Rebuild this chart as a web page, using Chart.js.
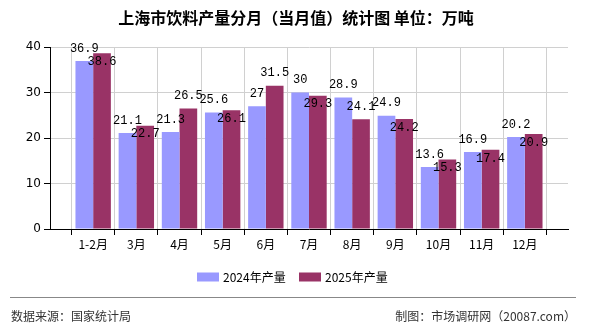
<!DOCTYPE html>
<html>
<head>
<meta charset="utf-8">
<script src="https://cdn.jsdelivr.net/npm/chart.js@4.4.1/dist/chart.umd.min.js"></script>
<style>
  html, body { margin: 0; padding: 0; background: #fff; }
  #wrap { width: 590px; height: 330px; position: relative; }
</style>
</head>
<body>
<div id="wrap"><canvas id="prodChart" width="590" height="330"></canvas></div>
<script>
// months (empty slots at both ends keep the axis padded like the original)
const months = ["", "1-2月", "3月", "4月", "5月", "6月", "7月", "8月", "9月", "10月", "11月", "12月", ""];
const output2024 = [null, 36.9, 21.1, 21.3, 25.6, 27, 30, 28.9, 24.9, 13.6, 16.9, 20.2, null];
const output2025 = [null, 38.6, 22.7, 26.5, 26.1, 31.5, 29.3, 24.1, 24.2, 15.3, 17.4, 20.9, null];
const seriesNames = ["2024年产量", "2025年产量"];
const yTicks = [0, 10, 20, 30, 40];

const titleText = "上海市饮料产量分月（当月值）统计图 单位：万吨";
const sourceText = "数据来源：国家统计局";
const makerText = "制图：市场调研网（20087.com）";

const BLUE = "#9999ff";
const WINE = "#993366";

// value labels: 2024 above the bar; 2025 above too unless it would
// collide with the 2024 label, then it goes just inside the bar top
const valueLabels = {
  id: "valueLabels",
  afterDatasetsDraw(chart) {
    const ctx = chart.ctx;
    const a = chart.data.datasets[0].data;
    const b = chart.data.datasets[1].data;
    ctx.save();
    ctx.font = "12px 'Liberation Mono', monospace";
    ctx.fillStyle = "#000";
    ctx.textAlign = "center";
    ctx.textBaseline = "middle";
    chart.data.datasets.forEach((ds, i) => {
      const meta = chart.getDatasetMeta(i);
      meta.data.forEach((bar, j) => {
        const v = ds.data[j];
        if (v === null) return;
        let y = bar.y - 12.5;
        if (i === 1 && Math.abs(b[j] - a[j]) < 3) y = bar.y + 8.5;
        ctx.fillText(String(v), bar.x, y);
      });
    });
    ctx.restore();
  },
};

// title, legend and footer
const decor = {
  id: "decor",
  afterDraw(chart) {
    const ctx = chart.ctx;
    ctx.save();
    ctx.fillStyle = "#000";
    ctx.textBaseline = "middle";

    ctx.font = "bold 16px 'Noto Sans CJK SC', sans-serif";
    ctx.textAlign = "center";
    ctx.fillText(titleText, 296, 18);

    // legend
    ctx.font = "12px 'Noto Sans CJK SC', sans-serif";
    ctx.textAlign = "left";
    const legendY = 277;
    const items = [
      { color: BLUE, x: 197 },
      { color: WINE, x: 299 },
    ];
    items.forEach((it, k) => {
      ctx.fillStyle = it.color;
      ctx.fillRect(it.x, legendY - 4.5, 22, 9);
      ctx.fillStyle = "#000";
      ctx.fillText(seriesNames[k], it.x + 26, legendY);
    });

    // footer
    ctx.strokeStyle = "#888";
    ctx.lineWidth = 1;
    ctx.beginPath();
    ctx.moveTo(10, 297.5);
    ctx.lineTo(576, 297.5);
    ctx.stroke();

    ctx.fillStyle = "#333";
    ctx.font = "12px 'Noto Sans CJK SC', sans-serif";
    ctx.textAlign = "left";
    ctx.fillText(sourceText, 11, 316);
    ctx.textAlign = "right";
    ctx.fillText(makerText, 576, 316);
    ctx.restore();
  },
};

new Chart(document.getElementById("prodChart").getContext("2d"), {
  type: "bar",
  data: {
    labels: months,
    datasets: [
      {
        label: seriesNames[0],
        data: output2024,
        backgroundColor: BLUE,
        borderWidth: 0,
        categoryPercentage: 0.82,
        barPercentage: 1.0,
      },
      {
        label: seriesNames[1],
        data: output2025,
        backgroundColor: WINE,
        borderWidth: 0,
        categoryPercentage: 0.82,
        barPercentage: 1.0,
      },
    ],
  },
  options: {
    responsive: false,
    animation: false,
    layout: {
      padding: { top: 47, right: 22, bottom: 0, left: 0 },
    },
    plugins: {
      legend: { display: false },
      title: { display: false },
      tooltip: { enabled: false },
    },
    scales: {
      x: {
        offset: false,
        afterFit: (scale) => {
          scale.height = 101;
        },
        grid: {
          color: "#d0d0d0",
          tickColor: "#000",
          tickLength: 6,
        },
        border: { color: "#000" },
        ticks: {
          color: "#000",
          autoSkip: false,
          maxRotation: 0,
          padding: 2,
          font: { size: 12, family: "'Noto Sans CJK SC', sans-serif" },
        },
      },
      y: {
        min: 0,
        max: 40,
        afterFit: (scale) => {
          scale.width = 50;
        },
        afterBuildTicks: (scale) => {
          scale.ticks = yTicks.map((v) => ({ value: v }));
        },
        grid: {
          color: "#d0d0d0",
          tickColor: "#000",
          tickLength: 6,
        },
        border: { color: "#000" },
        ticks: {
          color: "#000",
          padding: 3,
          font: { size: 12, family: "'DejaVu Sans', sans-serif" },
        },
      },
    },
  },
  plugins: [valueLabels, decor],
});
</script>
</body>
</html>
